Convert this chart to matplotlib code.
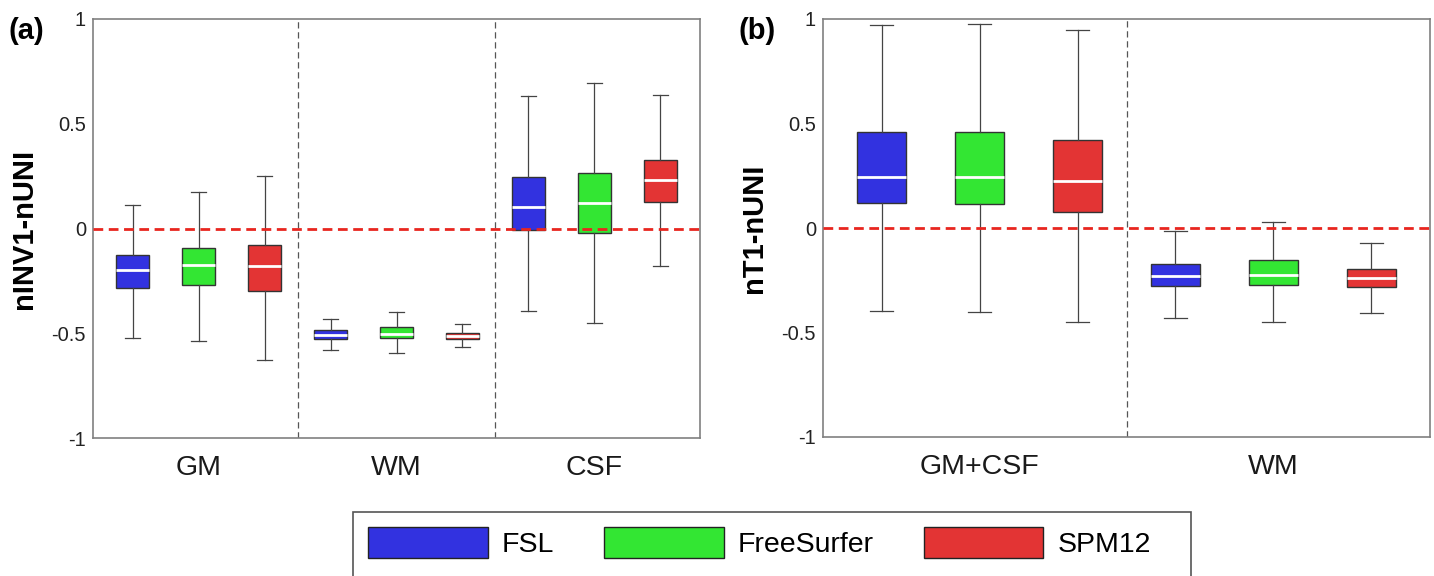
import matplotlib
matplotlib.use("Agg")
import matplotlib.pyplot as plt
from matplotlib.patches import Patch, Rectangle

plt.rcParams['font.family'] = ['Liberation Sans', 'DejaVu Sans']

tools = ['FSL', 'FreeSurfer', 'SPM12']
colors = ['#3232e0', '#33e633', '#e33434']

# panel (a): nINV1-nUNI, groups GM / WM / CSF, 3 tools each
groups_a = ['GM', 'WM', 'CSF']
lo_a = [-0.523, -0.539, -0.626, -0.579, -0.595, -0.564, -0.393, -0.450, -0.178]
q1_a = [-0.285, -0.272, -0.299, -0.526, -0.523, -0.528, -0.008, -0.022, 0.127]
med_a = [-0.197, -0.175, -0.178, -0.507, -0.504, -0.512, 0.105, 0.124, 0.231]
q3_a = [-0.126, -0.092, -0.079, -0.486, -0.472, -0.498, 0.246, 0.264, 0.329]
hi_a = [0.113, 0.175, 0.251, -0.431, -0.397, -0.458, 0.633, 0.695, 0.636]

# panel (b): nT1-nUNI, groups GM+CSF / WM
groups_b = ['GM+CSF', 'WM']
lo_b = [-0.396, -0.401, -0.448, -0.431, -0.450, -0.405]
q1_b = [0.118, 0.116, 0.076, -0.277, -0.272, -0.280]
med_b = [0.245, 0.245, 0.223, -0.231, -0.224, -0.240]
q3_b = [0.458, 0.458, 0.423, -0.172, -0.151, -0.196]
hi_b = [0.970, 0.975, 0.949, -0.016, 0.029, -0.072]

yticks = [-1, -0.5, 0, 0.5, 1]
ytick_labels = ['-1', '-0.5', '0', '0.5', '1']

W, H = 1434, 576
fig = plt.figure(figsize=(W / 100, H / 100), dpi=100)


def panel(rect, groups, lo, q1, med, q3, hi, ylabel, tag):
    ax = fig.add_axes(rect)
    n = len(lo)
    pos = list(range(1, n + 1))
    stats = [dict(whislo=lo[i], q1=q1[i], med=med[i], q3=q3[i], whishi=hi[i])
             for i in range(n)]
    bp = ax.bxp(stats, positions=pos, widths=0.5, capwidths=0.23,
                patch_artist=True, showfliers=False,
                boxprops=dict(edgecolor='#333333', linewidth=1.0),
                medianprops=dict(color='white', linewidth=2.0),
                whiskerprops=dict(color='#444444', linewidth=0.9),
                capprops=dict(color='#444444', linewidth=0.9))
    for i, b in enumerate(bp['boxes']):
        b.set_facecolor(colors[i % 3])

    ax.set_xlim(0.4, n + 0.6)
    ax.set_ylim(-1, 1)
    for k in range(1, len(groups)):
        ax.axvline(3 * k + 0.5, color='#555555', lw=0.9, ls=(0, (5, 3)), zorder=1)
    ax.axhline(0, color='#e8261f', lw=2.0, ls=(0, (3.5, 2)), zorder=5)

    ax.set_xticks([3 * k + 2 for k in range(len(groups))])
    ax.set_xticklabels(groups, fontsize=20.5, color='#1a1a1a')
    ax.set_yticks(yticks)
    ax.set_yticklabels(ytick_labels, fontsize=14.5, color='#222222')
    ax.tick_params(axis='x', length=0, pad=12)
    ax.tick_params(axis='y', length=0, pad=5)
    for s in ax.spines.values():
        s.set_color('#808080')
        s.set_linewidth(1.2)

    ax.set_ylabel(ylabel, fontsize=21, fontweight='bold')
    ax.yaxis.set_label_coords(-0.091, 0.5)
    fig.text(rect[0] - 85 / W, 1 - 31 / H, tag, fontsize=21, fontweight='bold',
             ha='left', va='center')
    return ax


panel([93 / W, (H - 438) / H, 607 / W, 419 / H], groups_a,
      lo_a, q1_a, med_a, q3_a, hi_a, 'nINV1-nUNI', '(a)')
panel([823 / W, (H - 437) / H, 607 / W, 418 / H], groups_b,
      lo_b, q1_b, med_b, q3_b, hi_b, 'nT1-nUNI', '(b)')

# legend, frame drawn separately (it runs off the bottom edge)
handles = [Patch(facecolor=c, edgecolor='#222222', linewidth=1.0) for c in colors]
fig.legend(handles, tools, loc='upper left', ncol=3,
           bbox_to_anchor=(368 / W, 1 - 527 / H), frameon=False,
           fontsize=20.5, handlelength=4.2, handleheight=1.3,
           handletextpad=0.5, columnspacing=1.75, borderpad=0, borderaxespad=0)
fig.patches.append(Rectangle((353 / W, -0.05), (1191 - 353) / W, (H - 512) / H + 0.05,
                             transform=fig.transFigure, fill=False,
                             edgecolor='#555555', linewidth=1.2))

fig.savefig('out.png', dpi=100)
